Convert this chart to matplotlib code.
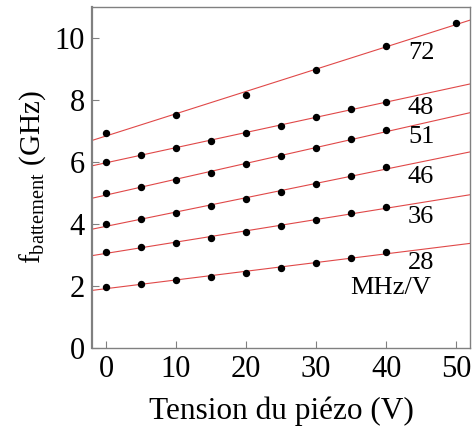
import numpy as np
import matplotlib
matplotlib.use("Agg")
import matplotlib.pyplot as plt

plt.rcParams['font.family'] = ['Liberation Serif', 'DejaVu Serif']
plt.rcParams['mathtext.fontset'] = 'custom'
plt.rcParams['mathtext.rm'] = 'Liberation Serif'
plt.rcParams['mathtext.it'] = 'Liberation Serif:italic'

# tension du piezo (V)
x_72 = [0, 10, 20, 30, 40, 50]
y_72 = [6.94, 7.52, 8.16, 8.97, 9.74, 10.48]

x_std = [0, 5, 10, 15, 20, 25, 30, 35, 40]
y_48 = [6.00, 6.23, 6.45, 6.68, 6.94, 7.16, 7.45, 7.71, 7.94]
y_51 = [5.00, 5.19, 5.42, 5.65, 5.92, 6.19, 6.45, 6.73, 7.03]
y_46 = [4.00, 4.16, 4.35, 4.58, 4.81, 5.03, 5.29, 5.55, 5.84]
y_36 = [3.10, 3.26, 3.39, 3.55, 3.74, 3.92, 4.13, 4.35, 4.55]
y_28 = [1.97, 2.06, 2.19, 2.29, 2.42, 2.58, 2.74, 2.90, 3.10]

slope_labels = ['72', '48', '51', '46', '36', '28']
label_y = [9.5, 7.74, 6.81, 5.52, 4.23, 2.74]

series = [(x_72, y_72), (x_std, y_48), (x_std, y_51),
          (x_std, y_46), (x_std, y_36), (x_std, y_28)]

fig = plt.figure(figsize=(4.72, 4.37), dpi=100)
ax = fig.add_axes([0.195, 0.204, 0.801, 0.78])

xfit = np.array([-2, 52])
for (xs, ys), lab, ly in zip(series, slope_labels, label_y):
    p = np.polyfit(xs, ys, 1)
    ax.plot(xfit, np.polyval(p, xfit), color='#e04848', lw=0.8, zorder=1)
    ax.plot(xs, ys, 'o', color='black', ms=4.3, zorder=2)
    ax.text(45, ly, lab, fontsize=19, ha='center', va='center')

ax.text(40.6, 1.94, 'MHz/V', fontsize=19, ha='center', va='center')

ax.set_xlim(-2, 52)
ax.set_ylim(0, 11)
ax.set_xticks([0, 10, 20, 30, 40, 50])
ax.set_yticks([0, 2, 4, 6, 8, 10])
ax.tick_params(direction='in', length=5, color='#808080', labelsize=22, pad=5)
for s in ax.spines.values():
    s.set_color('#808080')
    s.set_linewidth(1.0)
ax.spines['left'].set_linewidth(1.6)

ax.set_xlabel('Tension du piézo (V)', fontsize=22.5, labelpad=9)
ax.set_ylabel(r'f$_{\mathrm{battement}}$ (GHz)', fontsize=21, labelpad=5)

fig.savefig('out.png', dpi=100)
